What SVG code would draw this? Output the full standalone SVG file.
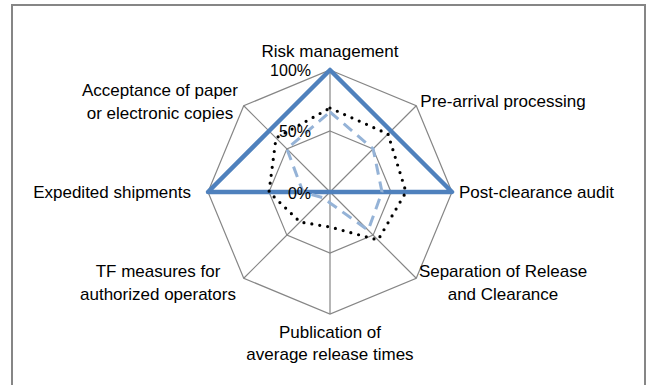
<svg xmlns="http://www.w3.org/2000/svg" width="650" height="385" viewBox="0 0 650 385">
<style>
  .grid { fill: none; stroke: #868686; stroke-width: 1.2; }
  .lbl { font-family: "Liberation Sans", Arial, sans-serif; font-size: 17px; fill: #000; }
  .pct { font-family: "Liberation Sans", Arial, sans-serif; font-size: 16px; fill: #000; text-anchor: end; }
  .s1 { fill: none; stroke: #4F81BD; stroke-width: 4.5; stroke-linejoin: round; }
  .s2 { fill: none; stroke: #95B3D7; stroke-width: 3; stroke-dasharray: 11 7; }
  .s3 { fill: none; stroke: #000; stroke-width: 3.2; stroke-linecap: round; stroke-dasharray: 0 8; }
</style>
<rect id="frame" x="12" y="5" width="633" height="400" fill="#fff" stroke="#868686" stroke-width="2"/>
<g id="grid">
  <polygon class="grid" points="330,70 416.27,105.73 452,192 416.27,278.27 330,314 243.73,278.27 208,192 243.73,105.73"/>
  <polygon class="grid" points="330,131 373.13,148.87 391,192 373.13,235.13 330,253 286.87,235.13 269,192 286.87,148.87"/>
  <path class="grid" d="M330,192L330,70M330,192L416.27,105.73M330,192L452,192M330,192L416.27,278.27M330,192L330,314M330,192L243.73,278.27M330,192L208,192M330,192L243.73,105.73"/>
</g>
<g id="connectors">
  <polygon id="series1" class="s1" points="330,70 391,131 452,192 330,192 330,192 330,192 208,192 269,131"/>
  <polygon id="series2" class="s2" points="330,112 373.13,148.87 382,192 368.2,230.2 330,203 324,198 303,192 286.87,148.87"/>
  <polygon id="series3" class="s3" points="330,108 388,134 406,192 378,240 330,227 300,222 269,192 276,138"/>
</g>
<g id="axis-values">
  <text class="pct" x="311" y="76">100%</text>
  <text class="pct" x="311" y="137">50%</text>
  <text class="pct" x="311" y="199">0%</text>
</g>
<g id="label-risk"><text class="lbl" x="330" y="57" text-anchor="middle">Risk management</text></g>
<g id="label-prearrival"><text class="lbl" x="503" y="107" text-anchor="middle">Pre-arrival processing</text></g>
<g id="label-postclearance"><text class="lbl" x="459" y="198">Post-clearance audit</text></g>
<g id="label-separation"><text class="lbl" x="503" y="277" text-anchor="middle">Separation of Release<tspan x="503" y="300">and Clearance</tspan></text></g>
<g id="label-publication"><text class="lbl" x="330" y="338" text-anchor="middle">Publication of<tspan x="330" y="360">average release times</tspan></text></g>
<g id="label-tf"><text class="lbl" x="158" y="277" text-anchor="middle">TF measures for<tspan x="158" y="300">authorized operators</tspan></text></g>
<g id="label-expedited"><text class="lbl" x="191" y="198" text-anchor="end">Expedited shipments</text></g>
<g id="label-acceptance"><text class="lbl" x="160" y="96" text-anchor="middle">Acceptance of paper<tspan x="160" y="119">or electronic copies</tspan></text></g>
</svg>
